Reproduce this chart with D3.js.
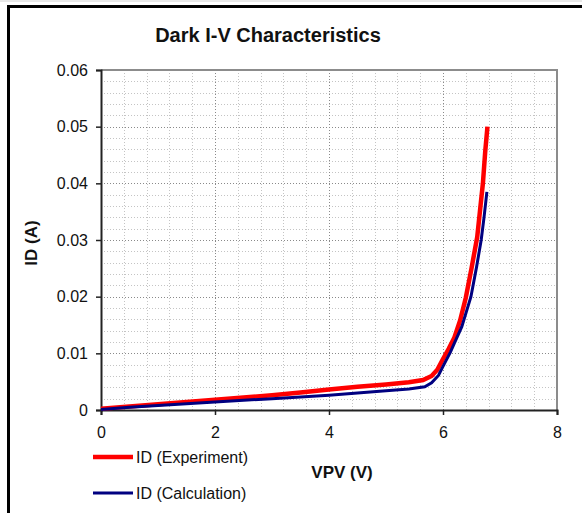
<!DOCTYPE html>
<html>
<head>
<meta charset="utf-8">
<script src="https://cdn.jsdelivr.net/npm/d3@7"></script>
<style>
  body { margin: 0; background: #fff; }
  svg { display: block; font-family: "Liberation Sans", Arial, sans-serif; }
</style>
</head>
<body>
<div id="chart"></div>
<script>
// measured series (VPV in volts, ID in amps)
var expV = [0, 0.5, 1, 1.5, 2, 2.5, 3, 3.5, 4, 4.5, 5, 5.4, 5.65, 5.8, 5.9, 6.0, 6.1, 6.2, 6.3, 6.4, 6.5, 6.6, 6.7, 6.74, 6.78];
var expI = [0.0002, 0.0006, 0.0010, 0.0014, 0.0018, 0.0022, 0.0026, 0.0031, 0.0036, 0.0041, 0.0045, 0.0049, 0.0053, 0.0060, 0.0071, 0.0090, 0.0108, 0.0128, 0.0158, 0.0198, 0.0250, 0.0305, 0.0400, 0.0455, 0.0500];

var calcV = [0, 0.5, 1, 1.5, 2, 2.5, 3, 3.5, 4, 4.5, 5, 5.4, 5.68, 5.8, 5.92, 6.0, 6.13, 6.2, 6.33, 6.49, 6.59, 6.67, 6.72, 6.77];
var calcI = [0.0001, 0.0005, 0.0008, 0.0011, 0.0014, 0.0017, 0.0020, 0.0023, 0.0026, 0.0030, 0.0034, 0.0037, 0.0041, 0.0048, 0.0061, 0.0077, 0.0102, 0.0118, 0.0147, 0.0200, 0.0253, 0.0300, 0.0340, 0.0385];

var xTicks = [0, 2, 4, 6, 8];
var yTicks = [0, 0.01, 0.02, 0.03, 0.04, 0.05, 0.06];
var seriesNames = ["ID (Experiment)", "ID (Calculation)"];
var seriesColors = ["#ff0000", "#000080"];

var W = 582, H = 513;
var plot = { left: 101, right: 557, top: 70, bottom: 410 };

var svg = d3.select("#chart").append("svg")
  .attr("width", W)
  .attr("height", H);

svg.append("rect").attr("width", W).attr("height", H).attr("fill", "#fff");

// outer frame (only top and left show)
svg.append("line").attr("x1", 0).attr("x2", W).attr("y1", 1).attr("y2", 1)
  .attr("stroke", "#d0d0d0").attr("stroke-width", 1);
svg.append("line").attr("x1", 7).attr("x2", W).attr("y1", 6.5).attr("y2", 6.5)
  .attr("stroke", "#000").attr("stroke-width", 3);
svg.append("line").attr("x1", 8.5).attr("x2", 8.5).attr("y1", 5).attr("y2", H)
  .attr("stroke", "#000").attr("stroke-width", 3);

var x = d3.scaleLinear().domain([0, 8]).range([plot.left, plot.right]);
var y = d3.scaleLinear().domain([0, 0.06]).range([plot.bottom, plot.top]);

// grid, minor then major
var minorX = d3.range(0, 8.001, 0.4).filter(function(d) { return Math.abs(d / 2 - Math.round(d / 2)) > 1e-6; });
var minorY = d3.range(0, 0.0601, 0.002).filter(function(d) { return Math.abs(d / 0.01 - Math.round(d / 0.01)) > 1e-6; });

var grid = svg.append("g");
grid.selectAll(".mx").data(minorX).enter().append("line")
  .attr("x1", function(d) { return Math.round(x(d)) + 0.5; })
  .attr("x2", function(d) { return Math.round(x(d)) + 0.5; })
  .attr("y1", plot.top).attr("y2", plot.bottom)
  .attr("stroke", "#c4c4c4").attr("stroke-dasharray", "1,2");
grid.selectAll(".my").data(minorY).enter().append("line")
  .attr("y1", function(d) { return Math.round(y(d)) + 0.5; })
  .attr("y2", function(d) { return Math.round(y(d)) + 0.5; })
  .attr("x1", plot.left).attr("x2", plot.right)
  .attr("stroke", "#c4c4c4").attr("stroke-dasharray", "1,2");
grid.selectAll(".Mx").data(xTicks.slice(1, -1)).enter().append("line")
  .attr("x1", function(d) { return Math.round(x(d)) + 0.5; })
  .attr("x2", function(d) { return Math.round(x(d)) + 0.5; })
  .attr("y1", plot.top).attr("y2", plot.bottom)
  .attr("stroke", "#8a8a8a").attr("stroke-dasharray", "1,2");
grid.selectAll(".My").data(yTicks.slice(1, -1)).enter().append("line")
  .attr("y1", function(d) { return Math.round(y(d)) + 0.5; })
  .attr("y2", function(d) { return Math.round(y(d)) + 0.5; })
  .attr("x1", plot.left).attr("x2", plot.right)
  .attr("stroke", "#8a8a8a").attr("stroke-dasharray", "1,2");

// top / right plot border
svg.append("path")
  .attr("d", "M" + plot.left + "," + plot.top + "H" + plot.right + "V" + plot.bottom)
  .attr("fill", "none").attr("stroke", "#8c8c8c").attr("stroke-width", 2);

// axes
var xAxis = d3.axisBottom(x).tickValues(xTicks).tickSize(5).tickPadding(12).tickFormat(d3.format("d"));
var yAxis = d3.axisLeft(y).tickValues(yTicks).tickSize(5).tickPadding(8)
  .tickFormat(function(d) { return d === 0 ? "0" : d3.format(".2f")(d); });

var gx = svg.append("g").attr("transform", "translate(0," + plot.bottom + ")").call(xAxis);
var gy = svg.append("g").attr("transform", "translate(" + plot.left + ",0)").call(yAxis);

[gx, gy].forEach(function(g) {
  g.select(".domain").attr("stroke", "#222").attr("stroke-width", 2);
  g.selectAll(".tick line").attr("stroke", "#222").attr("stroke-width", 1.5);
  g.selectAll(".tick text").attr("fill", "#111").style("font-size", "16px")
    .style("font-family", "'Liberation Sans', Arial, sans-serif");
});

// series
var line = d3.line()
  .x(function(d) { return x(d[0]); })
  .y(function(d) { return y(d[1]); });

var expData = expV.map(function(v, i) { return [v, expI[i]]; });
var calcData = calcV.map(function(v, i) { return [v, calcI[i]]; });

svg.append("path").datum(expData)
  .attr("d", line).attr("fill", "none")
  .attr("stroke", seriesColors[0]).attr("stroke-width", 4.5);
svg.append("path").datum(calcData)
  .attr("d", line).attr("fill", "none")
  .attr("stroke", seriesColors[1]).attr("stroke-width", 3);

// title and axis titles
svg.append("text").attr("x", 268).attr("y", 42)
  .attr("text-anchor", "middle").style("font-size", "20px").style("font-weight", "bold")
  .attr("fill", "#111").text("Dark I-V Characteristics");

svg.append("text").attr("x", 342).attr("y", 478)
  .attr("text-anchor", "middle").style("font-size", "17px").style("font-weight", "bold")
  .attr("fill", "#111").text("VPV (V)");

svg.append("text")
  .attr("transform", "translate(37,243) rotate(-90)")
  .attr("text-anchor", "middle").style("font-size", "17px").style("font-weight", "bold")
  .attr("fill", "#111").text("ID (A)");

// legend
var legend = svg.selectAll(".legend").data(seriesNames).enter().append("g")
  .attr("transform", function(d, i) { return "translate(93," + (457 + i * 36) + ")"; });
legend.append("line").attr("x1", 0).attr("x2", 40).attr("y1", 0).attr("y2", 0)
  .attr("stroke", function(d, i) { return seriesColors[i]; })
  .attr("stroke-width", function(d, i) { return i === 0 ? 4.5 : 3; });
legend.append("text").attr("x", 43).attr("y", 6)
  .style("font-size", "16px").attr("fill", "#111")
  .text(function(d) { return d; });
</script>
</body>
</html>
